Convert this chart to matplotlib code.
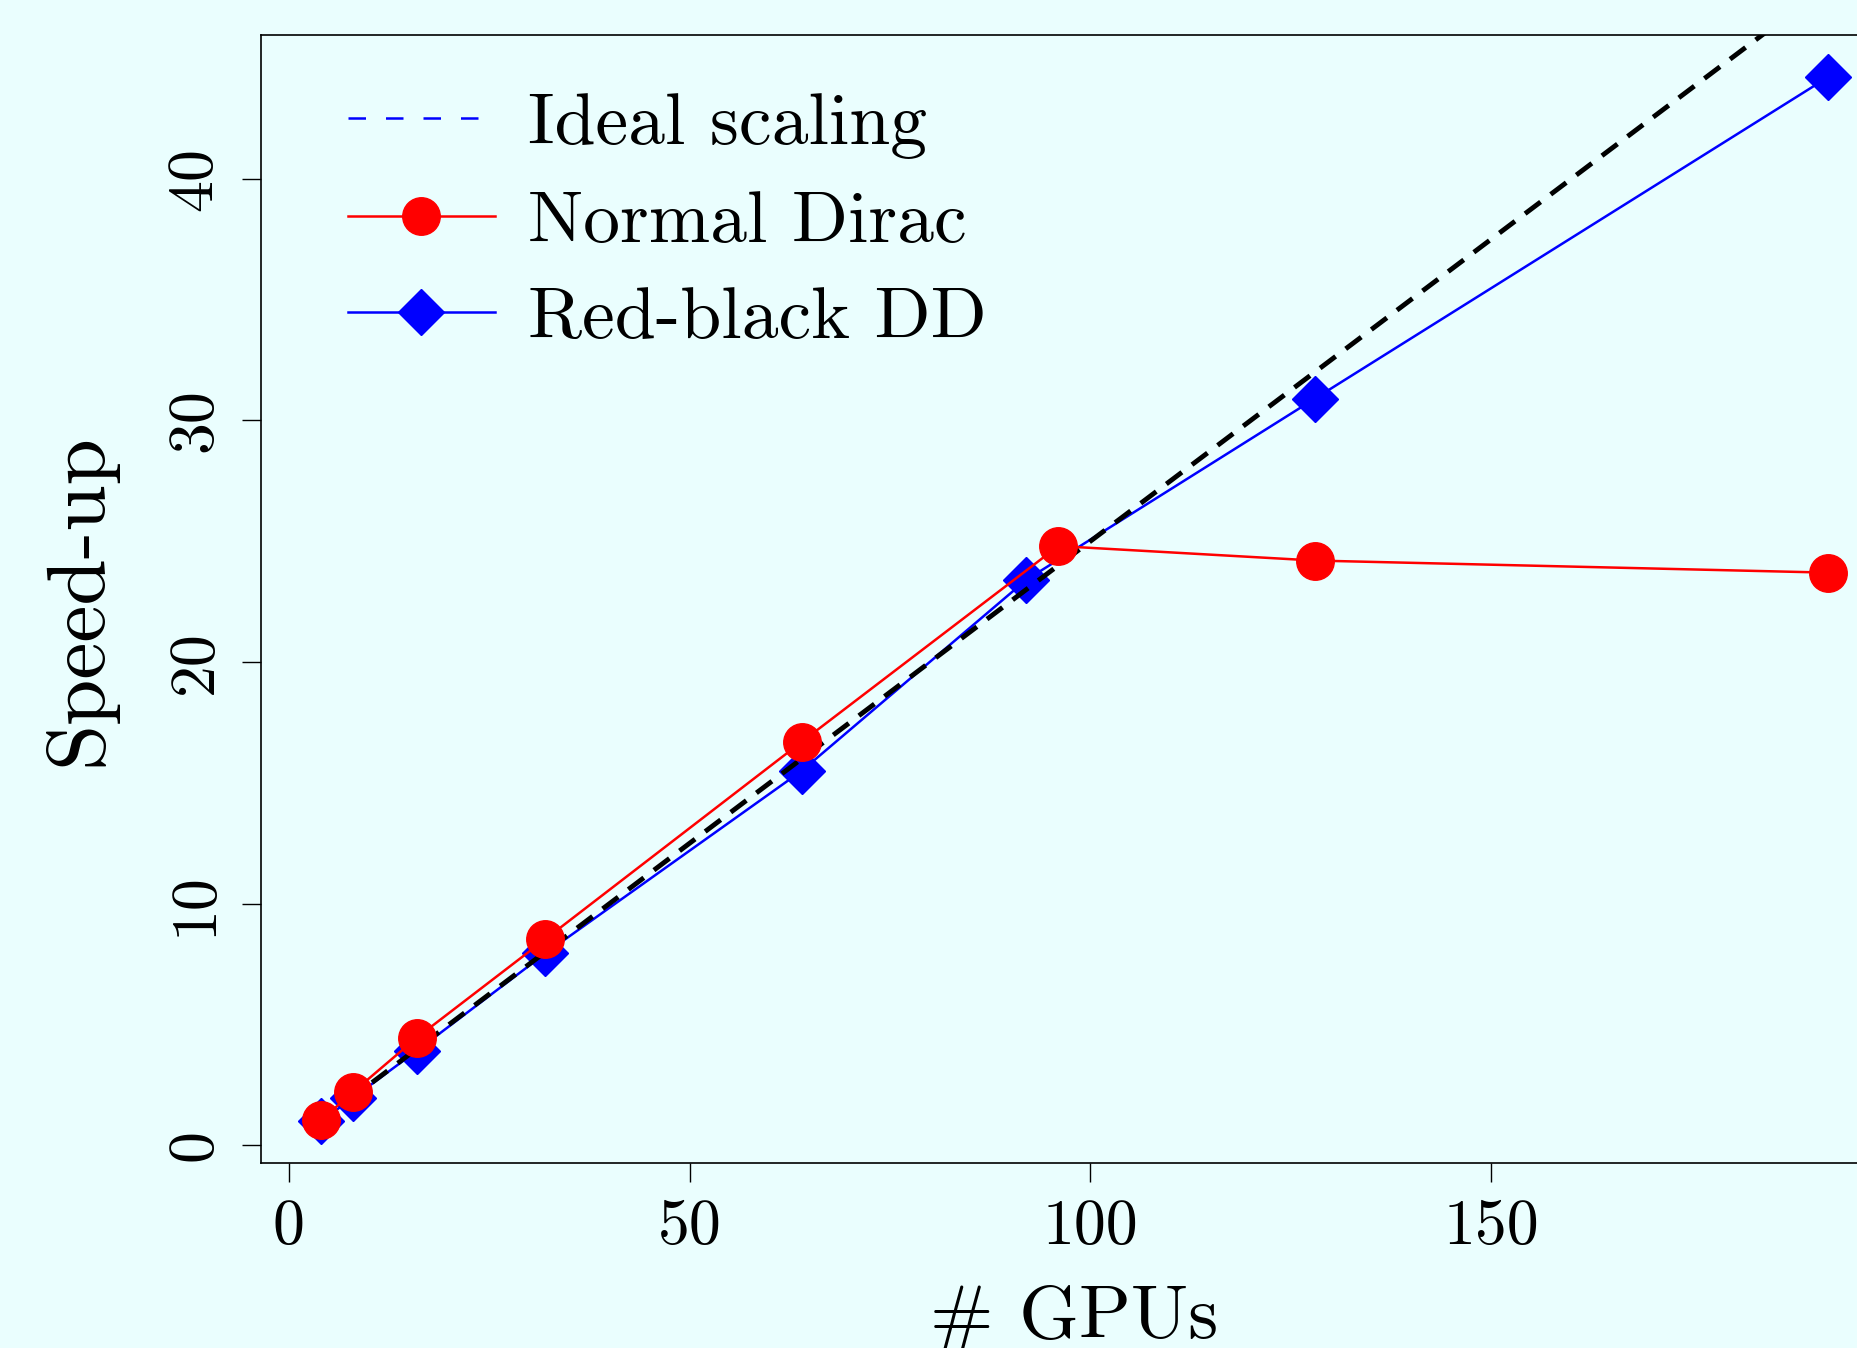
import matplotlib
matplotlib.use("Agg")
import matplotlib.pyplot as plt
from matplotlib.lines import Line2D

# ---- data ----
ideal_gpus = [4, 192]
ideal_speedup = [1, 48]

normal_gpus = [4, 8, 16, 32, 64, 96, 128, 192]
normal_speedup = [1.03, 2.2, 4.46, 8.53, 16.7, 24.8, 24.2, 23.7]

rb_gpus = [4, 8, 16, 32, 64, 92, 128, 192]
rb_speedup = [1.0, 1.96, 3.92, 7.94, 15.5, 23.4, 30.9, 44.2]

xticks = [0, 50, 100, 150]
yticks = [0, 10, 20, 30, 40]

bg = "#EAFEFE"
plt.rcParams["font.family"] = ["cmr10", "DejaVu Serif"]
plt.rcParams["axes.formatter.use_mathtext"] = True
plt.rcParams["mathtext.fontset"] = "cm"

fig = plt.figure(figsize=(18.57, 13.48), dpi=100, facecolor=bg)
ax = fig.add_axes([0.1403, 0.1373, 1.0168 - 0.1403, 0.9737 - 0.1373])
ax.set_facecolor(bg)

ax.plot(rb_gpus, rb_speedup, color="blue", lw=1.8, marker="D", ms=23,
        mec="blue", mfc="blue", zorder=3)
ax.plot(ideal_gpus, ideal_speedup, color="black", lw=3.5, ls=(0, (4, 2.6)),
        zorder=4)
ax.plot(normal_gpus, normal_speedup, color="red", lw=1.8, marker="o", ms=27,
        mec="red", mfc="red", zorder=5)

ax.set_xlim(-3.52, 199.52)
ax.set_ylim(-0.728, 45.93)
ax.set_xticks(xticks)
ax.set_yticks(yticks)
ax.set_xticklabels([str(t) for t in xticks])
ax.set_yticklabels([str(t) for t in yticks], rotation=90, va="center")
ax.tick_params(axis="both", direction="out", length=14, width=1.0,
               labelsize=46, pad=12)
for s in ax.spines.values():
    s.set_linewidth(1.2)

ax.set_xlabel("# GPUs", fontsize=55, labelpad=20)
ax.set_ylabel("Speed-up", fontsize=60, labelpad=36)

handles = [
    Line2D([], [], color="blue", lw=1.8, ls=(0, (7, 8))),
    Line2D([], [], color="red", lw=1.8, marker="o", ms=27),
    Line2D([], [], color="blue", lw=1.8, marker="D", ms=23),
]
labels = ["Ideal scaling", "Normal Dirac", "Red-black DD"]
ax.legend(handles, labels, loc="upper left", bbox_to_anchor=(0.022, 0.995),
          frameon=False, fontsize=53, handlelength=2.0, handletextpad=0.45,
          labelspacing=0.42, borderaxespad=0.3)

fig.savefig("out.png", dpi=100, facecolor=bg)
